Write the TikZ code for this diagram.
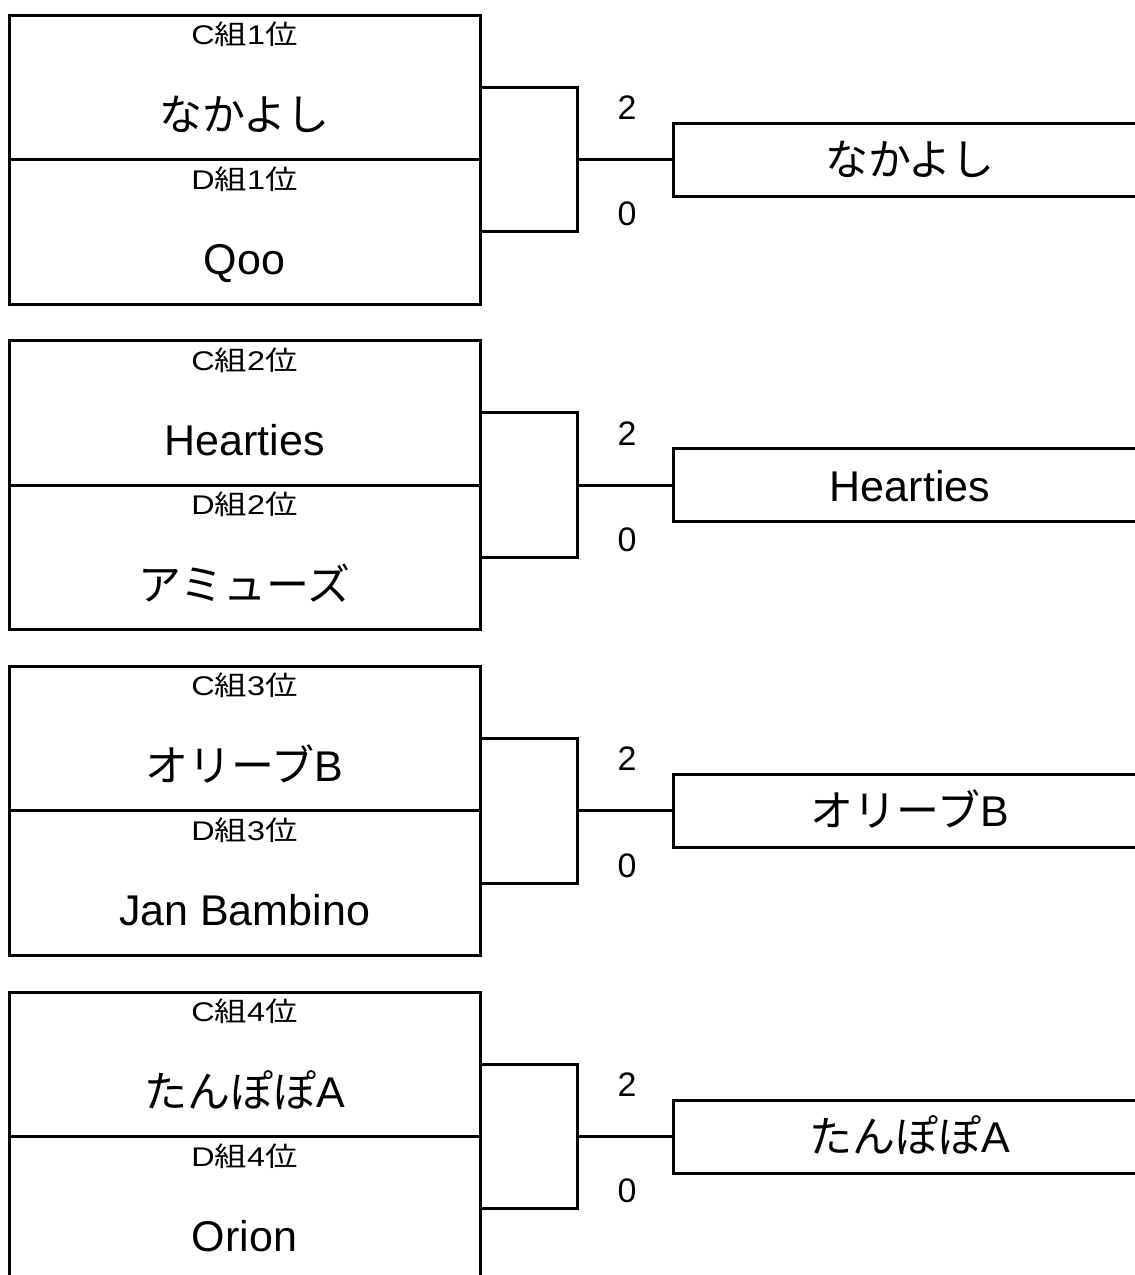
\documentclass[tikz,border=0pt]{standalone}
\usepackage{fontspec}
\setmainfont{Liberation Sans}
\newfontfamily\jpfont{Noto Sans CJK JP}
\newfontfamily\labfont[FakeStretch=1.2]{Liberation Sans}
\newfontfamily\labjpfont[FakeStretch=1.2]{Noto Sans CJK JP}
\newcommand\J[1]{{\jpfont #1}}
\newcommand\LJ[1]{{\labjpfont #1}}
\usetikzlibrary{calc}
\tikzset{
  slot/.style={draw, line width=3pt, minimum width=471pt, minimum height=144.5pt, inner sep=0pt, outer sep=0pt},
  winbox/.style={draw, line width=3pt, minimum width=474pt, minimum height=73pt, inner sep=0pt, outer sep=0pt},
  lab/.style={inner sep=0pt, anchor=base, font=\labfont\fontsize{27}{32}\selectfont},
  teamname/.style={inner sep=0pt, anchor=base, font=\fontsize{43}{50}\selectfont},
  score/.style={inner sep=0pt, font=\fontsize{34}{40}\selectfont},
  conn/.style={line width=3pt}
}
\begin{document}
\begin{tikzpicture}[x=1pt,y=-1pt]
\useasboundingbox (0,0) rectangle (1135,1275);
\clip (0,0) rectangle (1135,1275);
\foreach \k/\rk/\na/\nb/\win in {
  0/1/{\J{なかよし}}/{Qoo}/{\J{なかよし}},
  1/2/{Hearties}/{\J{アミューズ}}/{Hearties},
  2/3/{\J{オリーブ}B}/{Jan Bambino}/{\J{オリーブ}B},
  3/4/{\J{たんぽぽ}A}/{Orion}/{\J{たんぽぽ}A}}{
  \pgfmathsetmacro\T{15+\k*325.67}
  \node[slot] (a\k) at (244.5,\T+72.25) {};
  \node[slot] (b\k) at (244.5,\T+216.75) {};
  \node[lab] (la\k) at (244.5,\T+29.5) {C\LJ{組}\rk\LJ{位}};
  \node[teamname] (na\k) at (244.5,\T+115) {\na};
  \node[lab] (lb\k) at (244.5,\T+174) {D\LJ{組}\rk\LJ{位}};
  \node[teamname] (nb\k) at (244.5,\T+259.5) {\nb};
  \node[winbox] (w\k) at (910,\T+144.5) {};
  \node[teamname] (wt\k) at (910,\T+160.5) {\win};
  \coordinate (j\k) at (577,\T+144.5);
  \draw[conn] (a\k.east) -| (j\k) |- (b\k.east);
  \draw[conn] (j\k) -- (w\k.west);
  \node[score] (s\k a) at (627,\T+92.5) {2};
  \node[score] (s\k b) at (627,\T+199) {0};
}
\end{tikzpicture}
\end{document}
